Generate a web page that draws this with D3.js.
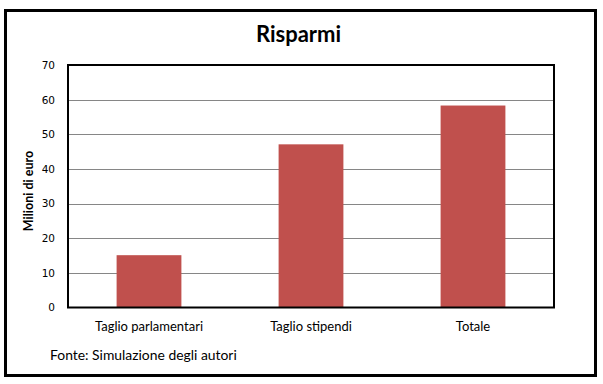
<!DOCTYPE html>
<html><head><meta charset="utf-8">
<script src="https://cdn.jsdelivr.net/npm/d3@7"></script>
<style>html,body{margin:0;padding:0;background:#fff;}svg{display:block;}</style>
</head><body>
<script>
const categories = ["Taglio parlamentari", "Taglio stipendi", "Totale"];
const values = [15.1, 47.1, 58.3];
const yTicks = [0, 10, 20, 30, 40, 50, 60, 70];
const title = "Risparmi";
const yLabel = "Milioni di euro";
const source = "Fonte: Simulazione degli autori";

const W = 603, H = 384;
const svg = d3.select("body").append("svg").attr("width", W).attr("height", H);
svg.append("rect").attr("width", W).attr("height", H).attr("fill", "#fff");
svg.append("rect").attr("x", 5.5).attr("y", 10.5).attr("width", 590).attr("height", 365)
  .attr("fill", "none").attr("stroke", "#000").attr("stroke-width", 3);

const L = 68, R = 554, T = 65, B = 307.5;
const x = d3.scaleBand().domain(categories).range([L, R]).paddingInner(0.6).paddingOuter(0.3);
const y = d3.scaleLinear().domain([0, 70]).range([B, T]);

// gridlines
svg.append("g").selectAll("line").data(yTicks.filter(d => d > 0 && d < 70)).join("line")
  .attr("x1", L).attr("x2", R).attr("y1", d => Math.round(y(d)) + 0.5).attr("y2", d => Math.round(y(d)) + 0.5)
  .attr("stroke", "#868686").attr("stroke-width", 1);

// bars
svg.append("g").selectAll("rect").data(values).join("rect")
  .attr("x", (d, i) => x(categories[i])).attr("width", x.bandwidth())
  .attr("y", d => y(d)).attr("height", d => B - y(d)).attr("fill", "#C0504D");

// plot border
svg.append("rect").attr("x", L).attr("y", T).attr("width", R - L).attr("height", B - T)
  .attr("fill", "none").attr("stroke", "#000").attr("stroke-width", 2);

// y axis
const yAxis = d3.axisLeft(y).tickValues(yTicks).tickSize(0).tickPadding(13);
const gy = svg.append("g").attr("transform", `translate(${L},0)`).call(yAxis);
gy.select(".domain").remove();
gy.selectAll("text").attr("font-family", "DejaVu Sans").attr("font-size", 10.5).attr("fill", "#000");

// x axis
const xAxis = d3.axisBottom(x).tickSize(0).tickPadding(14);
const gx = svg.append("g").attr("transform", `translate(0,${B})`).call(xAxis);
gx.select(".domain").remove();
gx.selectAll("text").attr("font-family", "Lato").attr("font-size", 13).attr("fill", "#000");

svg.append("text").attr("x", 298.5).attr("y", 42).attr("text-anchor", "middle")
  .attr("font-family", "Lato").attr("font-weight", "bold").attr("font-size", 22).text(title);

svg.append("text").attr("transform", "translate(33,191) rotate(-90)").attr("text-anchor", "middle")
  .attr("font-family", "Lato").attr("font-weight", "bold").attr("font-size", 12.5).text(yLabel);

svg.append("text").attr("x", 50).attr("y", 360).attr("font-family", "Lato").attr("font-size", 13.9).text(source);
</script>
</body></html>
